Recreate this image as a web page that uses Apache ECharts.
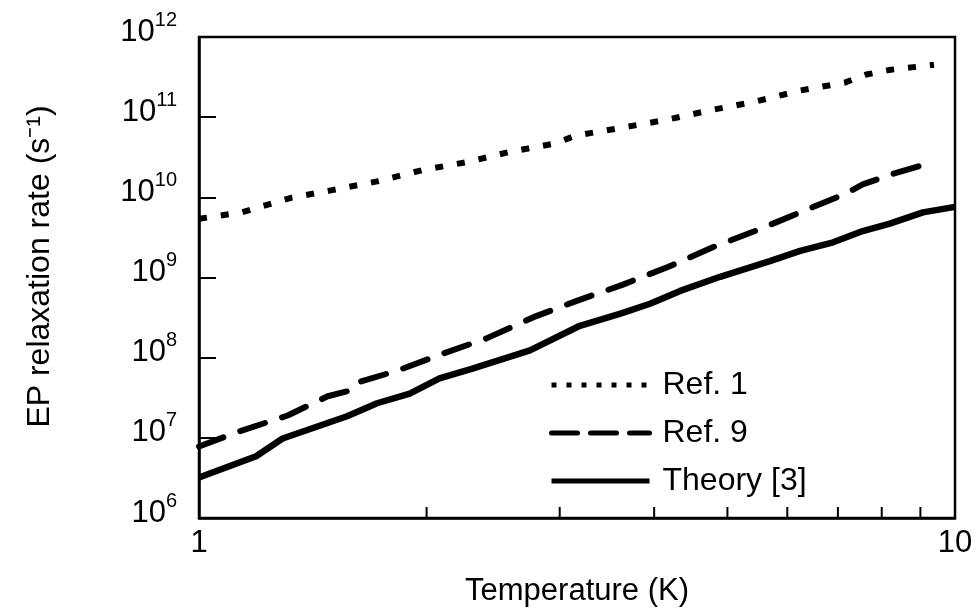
<!DOCTYPE html>
<html lang="en">
<head>
  <meta charset="UTF-8">
  <script src="https://cdn.jsdelivr.net/npm/echarts@6/dist/echarts.min.js"></script>
  <title>EP relaxation rate</title>
</head>
<style>
  html, body { margin: 0; height: 100%; background: #fff; }
  #chart { width: 979px; height: 612px; }
</style>
<body>
  <div id="chart"></div>
  <script type="text/javascript">
    // Ref. 1 (dotted)
    var tRef1 = [1, 1.14, 1.32, 1.5, 1.72, 1.98, 2.26, 2.58, 2.96, 3.15, 3.63, 4.16, 4.77, 5.42, 6.24, 7.15, 7.63, 8.22, 9.38];
    var vRef1 = [5.4e9, 6.5e9, 9.8e9, 1.23e10, 1.58e10, 2.2e10, 2.75e10, 3.7e10, 4.7e10, 5.9e10, 7.4e10, 9.3e10, 1.23e11, 1.55e11, 2.15e11, 2.7e11, 3.4e11, 3.9e11, 4.5e11];
    // Ref. 9 (dashed)
    var tRef9 = [1, 1.13, 1.31, 1.48, 1.57, 1.61, 1.83, 2.1, 2.4, 2.77, 3.14, 3.63, 4.17, 4.79, 5.44, 6.24, 7.15, 7.55, 8.26, 9.35];
    var vRef9 = [7.8e6, 1.2e7, 1.9e7, 3.3e7, 3.8e7, 4.8e7, 6.9e7, 1.12e8, 1.74e8, 3.2e8, 5.0e8, 8.1e8, 1.35e9, 2.4e9, 3.8e9, 6.5e9, 1.1e10, 1.45e10, 1.95e10, 2.75e10];
    // Theory [3] (solid)
    var tTheory = [1, 1.19, 1.29, 1.57, 1.72, 1.9, 2.08, 2.3, 2.74, 3.19, 3.61, 3.95, 4.33, 4.89, 5.69, 6.24, 6.9, 7.55, 8.2, 9.07, 10];
    var vTheory = [3.2e6, 5.9e6, 9.8e6, 1.86e7, 2.7e7, 3.55e7, 5.5e7, 7.3e7, 1.23e8, 2.5e8, 3.55e8, 4.7e8, 6.8e8, 1.02e9, 1.6e9, 2.15e9, 2.75e9, 3.8e9, 4.7e9, 6.5e9, 7.6e9];
    // minor ticks on the temperature axis
    var minorT = [2, 3, 4, 5, 6, 7, 8, 9];

    var font = "'Liberation Sans', Arial, Helvetica, sans-serif";

    function zip(xs, ys) {
      return xs.map(function (x, i) { return [x, ys[i]]; });
    }

    var chart = echarts.init(document.getElementById('chart'));

    var dotStyle = { color: '#000', width: 6, type: [8, 14] };
    var dashStyle = { color: '#000', width: 6, type: [26, 18], cap: 'round' };
    var solidStyle = { color: '#000', width: 6.5, join: 'round' };
    var noSymbol = { opacity: 0 };

    var option = {
      animation: false,
      backgroundColor: '#fff',
      grid: {
        left: 199, right: 24, top: 37, bottom: 92,
        show: true, borderColor: '#000', borderWidth: 2.5
      },
      legend: {
        orient: 'vertical',
        left: 544, top: 364,
        itemWidth: 98, itemHeight: 20, itemGap: 16,
        textStyle: { fontFamily: font, fontSize: 32, color: '#000', padding: [0, 0, 0, 8] },
        data: [
          { name: 'Ref. 1', itemStyle: noSymbol, lineStyle: { color: '#000', width: 5, type: [5, 10] } },
          { name: 'Ref. 9', itemStyle: noSymbol, lineStyle: { color: '#000', width: 5, type: [26, 13] } },
          { name: 'Theory [3]', itemStyle: noSymbol, lineStyle: { color: '#000', width: 5 } }
        ]
      },
      xAxis: {
        type: 'log', logBase: 10, min: 1, max: 10,
        name: 'Temperature (K)', nameLocation: 'middle', nameGap: 58,
        nameTextStyle: { fontFamily: font, fontSize: 31, color: '#000' },
        axisLine: { lineStyle: { color: '#000', width: 2.5 } },
        axisTick: { show: false },
        splitLine: { show: false },
        axisLabel: { fontFamily: font, fontSize: 31, color: '#000', margin: 10 }
      },
      yAxis: {
        type: 'log', logBase: 10, min: 1e6, max: 1e12,
        name: 'EP relaxation rate (s⁻¹)', nameLocation: 'middle', nameGap: 143,
        nameTextStyle: { fontFamily: font, fontSize: 32, color: '#000', padding: [0, 0, 0, 22] },
        axisLine: { lineStyle: { color: '#000', width: 2.5 } },
        axisTick: { inside: true, length: 17, lineStyle: { color: '#000', width: 2 } },
        splitLine: { show: false },
        axisLabel: {
          margin: 22,
          padding: [0, 0, 10, 0],
          formatter: function (v) {
            return '{base|10}{sup|' + Math.round(Math.log10(v)) + '}';
          },
          rich: {
            base: { fontFamily: font, fontSize: 31, color: '#000', lineHeight: 44 },
            sup: { fontFamily: font, fontSize: 20, color: '#000', lineHeight: 20, verticalAlign: 'top' }
          }
        }
      },
      series: [{
        name: 'Ref. 1', type: 'line', symbol: 'none',
        itemStyle: { color: '#000' },
        lineStyle: dotStyle,
        data: zip(tRef1, vRef1)
      }, {
        name: 'Ref. 9', type: 'line', symbol: 'none',
        itemStyle: { color: '#000' },
        lineStyle: dashStyle,
        data: zip(tRef9, vRef9)
      }, {
        name: 'Theory [3]', type: 'line', symbol: 'none',
        itemStyle: { color: '#000' },
        lineStyle: solidStyle,
        data: zip(tTheory, vTheory)
      }, {
        type: 'custom', silent: true,
        data: minorT.map(function (t) { return [t, 1e6]; }),
        renderItem: function (params, api) {
          var p = api.coord([api.value(0), api.value(1)]);
          return {
            type: 'line',
            shape: { x1: p[0], y1: p[1], x2: p[0], y2: p[1] - 11 },
            style: { stroke: '#000', lineWidth: 2 }
          };
        }
      }]
    };

    chart.setOption(option);
  </script>
</body>
</html>
